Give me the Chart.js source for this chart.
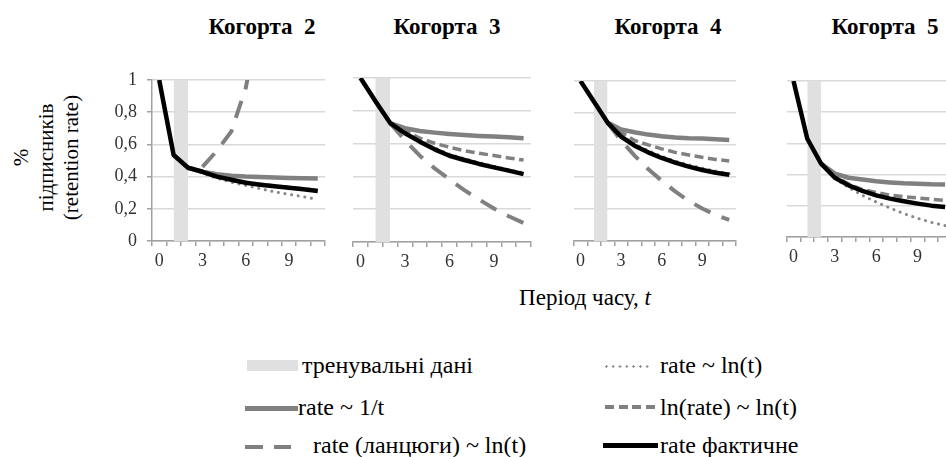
<!DOCTYPE html>
<html>
<head>
<meta charset="utf-8">
<script src="https://cdn.jsdelivr.net/npm/chart.js@4.4.0/dist/chart.umd.min.js"></script>
<style>
    body {
        margin: 0;
        width: 946px;
        height: 457px;
        overflow: hidden;
        position: relative;
        background: #fff;
        font-family: 'Liberation Serif', 'Times New Roman', Tinos, 'DejaVu Serif', serif;
        color: #000;
    }
    .title {
        position: absolute;
        top: 14px;
        width: 160px;
        margin-left: -80px;
        text-align: center;
        font-weight: bold;
        font-size: 23px;
        white-space: pre;
    }
    #yTitle {
        position: absolute;
        left: 46px;
        top: 157px;
        width: 200px;
        margin-left: -100px;
        margin-top: -37px;
        transform: rotate(-90deg);
        text-align: center;
        font-size: 21px;
        line-height: 25px;
    }
    #xTitle {
        position: absolute;
        left: 585px;
        top: 284px;
        width: 240px;
        margin-left: -120px;
        text-align: center;
        font-size: 23px;
        line-height: 28px;
    }
    .smp { position: absolute; }
    .ltxt {
        position: absolute;
        font-size: 24px;
        line-height: 28px;
        white-space: nowrap;
    }
</style>
</head>
<body>

<div id="yTitle">%<br>підписників<br>(retention rate)</div>
<div id="xTitle">Період часу, <i>t</i></div>

<!-- legend -->
<div class="smp" style="left:247px;top:360px;width:51px;height:11px;background:#e0e0e0"></div>
<div class="ltxt" style="left:302px;top:351px">тренувальні дані</div>
<div class="smp" style="left:245px;top:406px;width:53px;height:4.5px;background:#808080"></div>
<div class="ltxt" style="left:298px;top:393px">rate ~ 1/t</div>
<div class="smp" style="left:245px;top:445px;width:46px;height:4px;background:repeating-linear-gradient(90deg,#808080 0 18px,transparent 18px 29px)"></div>
<div class="ltxt" style="left:313px;top:431px">rate (ланцюги) ~ ln(t)</div>

<div class="smp" style="left:603px;top:365px;width:48px;height:3px;background-image:radial-gradient(circle,#8c8c8c 1.1px,transparent 1.4px);background-size:6.8px 3px"></div>
<div class="ltxt" style="left:660px;top:351px">rate ~ ln(t)</div>
<div class="smp" style="left:605px;top:405px;width:53px;height:3.5px;background:repeating-linear-gradient(90deg,#808080 0 9px,transparent 9px 13.5px)"></div>
<div class="ltxt" style="left:660px;top:393px">ln(rate) ~ ln(t)</div>
<div class="smp" style="left:603px;top:443px;width:55px;height:5px;background:#000"></div>
<div class="ltxt" style="left:660px;top:431px">rate фактичне</div>

<script>
// Retention by cohort: actual vs. fitted curves

const periods = ['0', '1', '2', '3', '4', '5', '6', '7', '8', '9', '10', '11'];
const yTickLabels = ['0', '0,2', '0,4', '0,6', '0,8', '1'];
const cohortNames = ['Когорта  2', 'Когорта  3', 'Когорта  4', 'Когорта  5'];
const trainingBand = [null, 1, 1, null, null, null, null, null, null, null, null, null];

// Cohort 2
const actual2  = [1.0, 0.534, 0.455, 0.43, 0.40, 0.38, 0.362, 0.35, 0.34, 0.331, 0.321, 0.31];
const inverse2 = [null, null, 0.455, 0.43, 0.415, 0.405, 0.40, 0.397, 0.394, 0.392, 0.39, 0.388];
const logLin2  = [null, null, 0.455, 0.42, 0.39, 0.365, 0.345, 0.325, 0.305, 0.29, 0.275, 0.258];
const logLog2  = [null, null, 0.455, 0.43, 0.402, 0.382, 0.365, 0.352, 0.342, 0.333, 0.324, 0.314];
const chain2   = [null, null, null, 0.46, 0.56, 0.68, 0.95, 1.4, null, null, null, null];

// Cohort 3
const actual3  = [1.0, 0.86, 0.725, 0.663, 0.612, 0.565, 0.526, 0.50, 0.476, 0.455, 0.435, 0.414];
const inverse3 = [null, null, 0.725, 0.694, 0.677, 0.667, 0.659, 0.653, 0.647, 0.643, 0.639, 0.633];
const logLin3  = [null, null, 0.725, 0.668, 0.62, 0.574, 0.536, 0.508, 0.484, 0.462, 0.441, 0.421];
const logLog3  = [null, null, 0.725, 0.68, 0.633, 0.602, 0.578, 0.557, 0.541, 0.527, 0.512, 0.50];
const chain3   = [null, null, 0.725, 0.62, 0.526, 0.449, 0.382, 0.316, 0.259, 0.204, 0.157, 0.116];

// Cohort 4
const actual4  = [1.0, 0.87, 0.74, 0.653, 0.596, 0.554, 0.519, 0.49, 0.465, 0.444, 0.427, 0.414];
const inverse4 = [null, null, 0.74, 0.697, 0.68, 0.665, 0.655, 0.647, 0.642, 0.64, 0.636, 0.632];
const logLin4  = [null, null, 0.74, 0.66, 0.605, 0.565, 0.53, 0.50, 0.477, 0.455, 0.437, 0.42];
const logLog4  = [null, null, 0.74, 0.68, 0.628, 0.601, 0.576, 0.554, 0.538, 0.523, 0.51, 0.50];
const chain4   = [null, null, 0.74, 0.628, 0.534, 0.45, 0.377, 0.31, 0.251, 0.203, 0.163, 0.132];

// Cohort 5 (no chain forecast)
const actual5  = [1.0, 0.63, 0.47, 0.38, 0.331, 0.295, 0.267, 0.246, 0.229, 0.214, 0.201, 0.192];
const inverse5 = [null, null, 0.47, 0.406, 0.38, 0.368, 0.357, 0.35, 0.344, 0.342, 0.338, 0.336];
const logLin5  = [null, null, 0.47, 0.375, 0.317, 0.267, 0.224, 0.186, 0.15, 0.12, 0.094, 0.073];
const logLog5  = [null, null, 0.47, 0.39, 0.34, 0.304, 0.285, 0.269, 0.259, 0.25, 0.242, 0.235];
const chain5   = [null, null, null, null, null, null, null, null, null, null, null, null];

// plot areas in page pixels
const panelBoxes = [
    { left: 152, right: 325, top: 80, bottom: 241, titleX: 262 },
    { left: 352, right: 531, top: 78, bottom: 241.5, titleX: 447 },
    { left: 572, right: 736, top: 80.5, bottom: 240, titleX: 668 },
    { left: 785, right: 952, top: 80.5, bottom: 236.5, titleX: 885 }
];

const SERIF = "'Liberation Serif', 'Times New Roman', Tinos, 'DejaVu Serif', serif";
const GRAY = '#808080';

Chart.defaults.font.family = SERIF;
Chart.defaults.animation = false;

function buildPanel(idx, actual, inverse, logLin, logLog, chain) {
    const box = panelBoxes[idx];
    const yW = idx === 0 ? 52 : 0;
    const padTop = 24, padRight = 4, xH = 34;
    const w = Math.round(yW + (box.right - box.left) + padRight);
    const h = Math.round(padTop + (box.bottom - box.top) + xH);

    const canvas = document.createElement('canvas');
    canvas.width = w;
    canvas.height = h;
    canvas.style.cssText = 'position:absolute;left:' + (box.left - yW) + 'px;top:' + (box.top - padTop) +
        'px;width:' + w + 'px;height:' + h + 'px;';
    document.body.appendChild(canvas);

    const title = document.createElement('div');
    title.className = 'title';
    title.style.left = box.titleX + 'px';
    title.textContent = cohortNames[idx];
    document.body.appendChild(title);

    new Chart(canvas.getContext('2d'), {
        type: 'line',
        data: {
            labels: periods,
            datasets: [
                { label: 'rate фактичне', data: actual, borderColor: '#000', borderWidth: 4.5, order: 0 },
                { label: 'rate ~ ln(t)', data: logLin, borderColor: '#888', borderWidth: 3,
                  borderDash: [0.1, 6.6], borderCapStyle: 'round', order: 1 },
                { label: 'ln(rate) ~ ln(t)', data: logLog, borderColor: GRAY, borderWidth: 3.5,
                  borderDash: [9, 4.5], order: 2 },
                { label: 'rate (ланцюги) ~ ln(t)', data: chain, borderColor: GRAY, borderWidth: 4,
                  borderDash: [18, 12], order: 3 },
                { label: 'rate ~ 1/t', data: inverse, borderColor: GRAY, borderWidth: 4.5, order: 4 },
                { label: 'тренувальні дані', data: trainingBand, fill: 'origin', backgroundColor: '#e0e0e0',
                  borderColor: 'rgba(0,0,0,0)', borderWidth: 0, order: 9 }
            ]
        },
        options: {
            responsive: false,
            animation: false,
            layout: { padding: { top: padTop, right: padRight, left: 0, bottom: 0 } },
            elements: {
                point: { radius: 0, hoverRadius: 0 },
                line: { tension: 0, borderJoinStyle: 'round' }
            },
            plugins: {
                legend: { display: false },
                tooltip: { enabled: false }
            },
            scales: {
                x: {
                    type: 'category',
                    offset: true,
                    afterFit: function(scale) { scale.height = xH; },
                    grid: {
                        offset: true,
                        drawOnChartArea: false,
                        drawTicks: true,
                        tickLength: 5,
                        color: '#a0a0a0',
                        lineWidth: 1.5
                    },
                    border: { display: true, color: '#a0a0a0', width: 1.5 },
                    ticks: {
                        autoSkip: false,
                        maxRotation: 0,
                        padding: 4,
                        color: '#333',
                        font: { family: SERIF, size: 18 },
                        callback: function(value, i) {
                            return i % 3 === 0 ? periods[i] : '';
                        }
                    }
                },
                y: {
                    min: 0,
                    max: 1,
                    afterFit: function(scale) { scale.width = yW; },
                    grid: {
                        color: '#d9d9d9',
                        lineWidth: 1.5,
                        drawTicks: idx === 0,
                        tickLength: 5,
                        tickColor: '#a0a0a0'
                    },
                    border: { display: idx === 0, color: '#a0a0a0', width: 1.5 },
                    ticks: {
                        display: idx === 0,
                        stepSize: 0.2,
                        padding: 10,
                        color: '#333',
                        font: { family: SERIF, size: 18 },
                        callback: function(value) {
                            return yTickLabels[Math.round(value * 5)];
                        }
                    }
                }
            }
        }
    });
}

buildPanel(0, actual2, inverse2, logLin2, logLog2, chain2);
buildPanel(1, actual3, inverse3, logLin3, logLog3, chain3);
buildPanel(2, actual4, inverse4, logLin4, logLog4, chain4);
buildPanel(3, actual5, inverse5, logLin5, logLog5, chain5);
</script>
</body>
</html>
